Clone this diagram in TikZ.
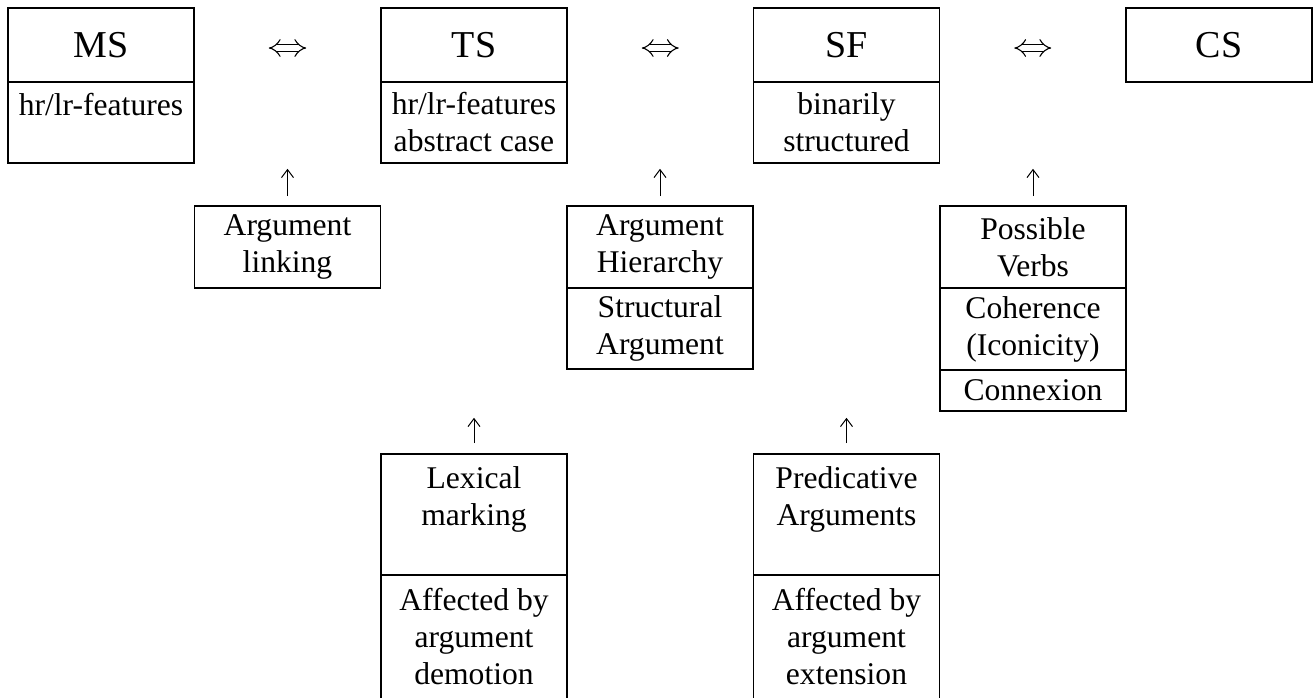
\documentclass[tikz,border=0pt]{standalone}
\usepackage{fontspec}
\setmainfont{Liberation Serif}
\usetikzlibrary{arrows.meta}
\newcommand{\cellfont}{\fontsize{15.8}{18.5}\selectfont}
\newcommand{\headfont}{\fontsize{19}{22}\selectfont}
\tikzset{
  cell/.style={draw, line width=0.8pt, minimum width=93pt, inner sep=0pt, align=center, font=\cellfont},
  head/.style={cell, font=\headfont, minimum height=37pt},
  uparr/.style={-{Straight Barb[length=4pt,width=6pt]}, line width=0.5pt},
  iff/.style={Implies-Implies, double, double distance=2.6pt, line width=0.55pt, shorten <=37pt, shorten >=37pt}
}
\begin{document}
\begin{tikzpicture}[x=0.5pt, y=-0.5pt]
      \useasboundingbox (0,0) rectangle (1313,697);
      \draw
        (101,45) node[head] (ms){MS}
        (101,122.5) node[cell, minimum height=40.5pt] (msfeat){hr/lr-features\\\mbox{}}
        (474,45) node[head] (ts){TS}
        (474,122.5) node[cell, minimum height=40.5pt] (tsfeat){hr/lr-features\\abstract case}
        (846.5,45) node[head] (sf){SF}
        (846.5,122.5) node[cell, minimum height=40.5pt] (sfbin){binarily\\structured}
        (1219,45) node[head] (cs){CS}
        (287.5,247) node[cell, minimum height=41pt] (argl){Argument\\linking}
        (660,247) node[cell, minimum height=41pt] (ahier){Argument\\Hierarchy}
        (660,328.5) node[cell, minimum height=40.5pt] (sarg){Structural\\Argument}
        (1033,247) node[cell, minimum height=41pt] (pverb){Possible\\Verbs}
        (1033,329) node[cell, minimum height=41pt] (coher){Coherence\\(Iconicity)}
        (1033,390.5) node[cell, minimum height=20.5pt] (connex){Connexion}
        (474,514.5) node[cell, minimum height=60.5pt] (lexm){Lexical\\marking\\\mbox{}}
        (474,637) node[cell, minimum height=62pt] (lexaff){Affected by\\argument\\demotion}
        (846.5,514.5) node[cell, minimum height=60.5pt] (predarg){Predicative\\Arguments\\\mbox{}}
        (846.5,637) node[cell, minimum height=62pt] (predaff){Affected by\\argument\\extension};
      \begin{scope}[-]
        \draw[iff] ([yshift=-1.5pt]ms.east) to ([yshift=-1.5pt]ts.west);
        \draw[iff] ([yshift=-1.5pt]ts.east) to ([yshift=-1.5pt]sf.west);
        \draw[iff] ([yshift=-1.5pt]sf.east) to ([yshift=-1.5pt]cs.west);
      \end{scope}
      \begin{scope}[uparr, shorten <=4.5pt, shorten >=2.5pt]
        \draw (argl.north) to (argl.north |- msfeat.south);
        \draw (ahier.north) to (ahier.north |- tsfeat.south);
        \draw (pverb.north) to (pverb.north |- sfbin.south);
      \end{scope}
      \begin{scope}[uparr, shorten <=5pt, shorten >=3pt]
        \draw (lexm.north) to (lexm.north |- connex.south);
        \draw (predarg.north) to (predarg.north |- connex.south);
      \end{scope}
    \end{tikzpicture}
\end{document}
